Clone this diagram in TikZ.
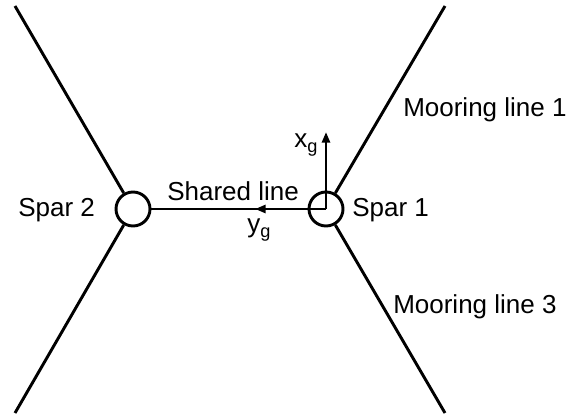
\documentclass[tikz,border=0pt]{standalone}
\usepackage{fontspec}
\setmainfont{Liberation Sans}
\usepackage{tikz}
\usetikzlibrary{arrows.meta, positioning}

\begin{document}
\begin{tikzpicture}[x=0.75pt, y=-0.75pt, node distance=144.75pt, >={Triangle[length=8pt,width=6pt]}]
\tikzset{
  spar/.style = {circle, draw, line width=2.2pt, minimum size=25.5pt, inner sep=0pt},
  line/.style = {draw, line width=2.2pt},
  axis/.style = {draw, line width=2.2pt, ->},
  txt/.style = {anchor=base west, inner sep=0pt, font=\fontsize{19.5pt}{23pt}\selectfont}
}
\useasboundingbox (0,0) rectangle (582,417);
\node [spar] (spar1) at (326,209) {};
\node [spar, left of=spar1] (spar2) {};
\coordinate (end1) at (445,6);
\coordinate (end3) at (445,413);
\coordinate (end2a) at (15,6);
\coordinate (end2b) at (15,413);
\coordinate (xg) at (326,132);
\coordinate (yg) at (255,209);
\path [line] (spar1) -- (end1);
\path [line] (spar1) -- (end3);
\path [line] (spar2) -- (end2a);
\path [line] (spar2) -- (end2b);
\path [line] (spar2.east) -- (spar1.center);
\path [axis] (spar1.center) -- (xg);
\path [axis] (spar1.center) -- (yg);
\node [txt] (lbl1) at (403,117) {Mooring line 1};
\node [txt] (lbl3) at (393,313) {Mooring line 3};
\node [txt] (lblspar1) at (352,217) {Spar 1};
\node [txt] (lblspar2) at (18,217) {Spar 2};
\node [txt] (lblshared) at (167,200) {Shared line};
\node [txt] (lblxg) at (294,148) {x\textsubscript{g}};
\node [txt] (lblyg) at (247,233) {y\textsubscript{g}};
\end{tikzpicture}
\end{document}
